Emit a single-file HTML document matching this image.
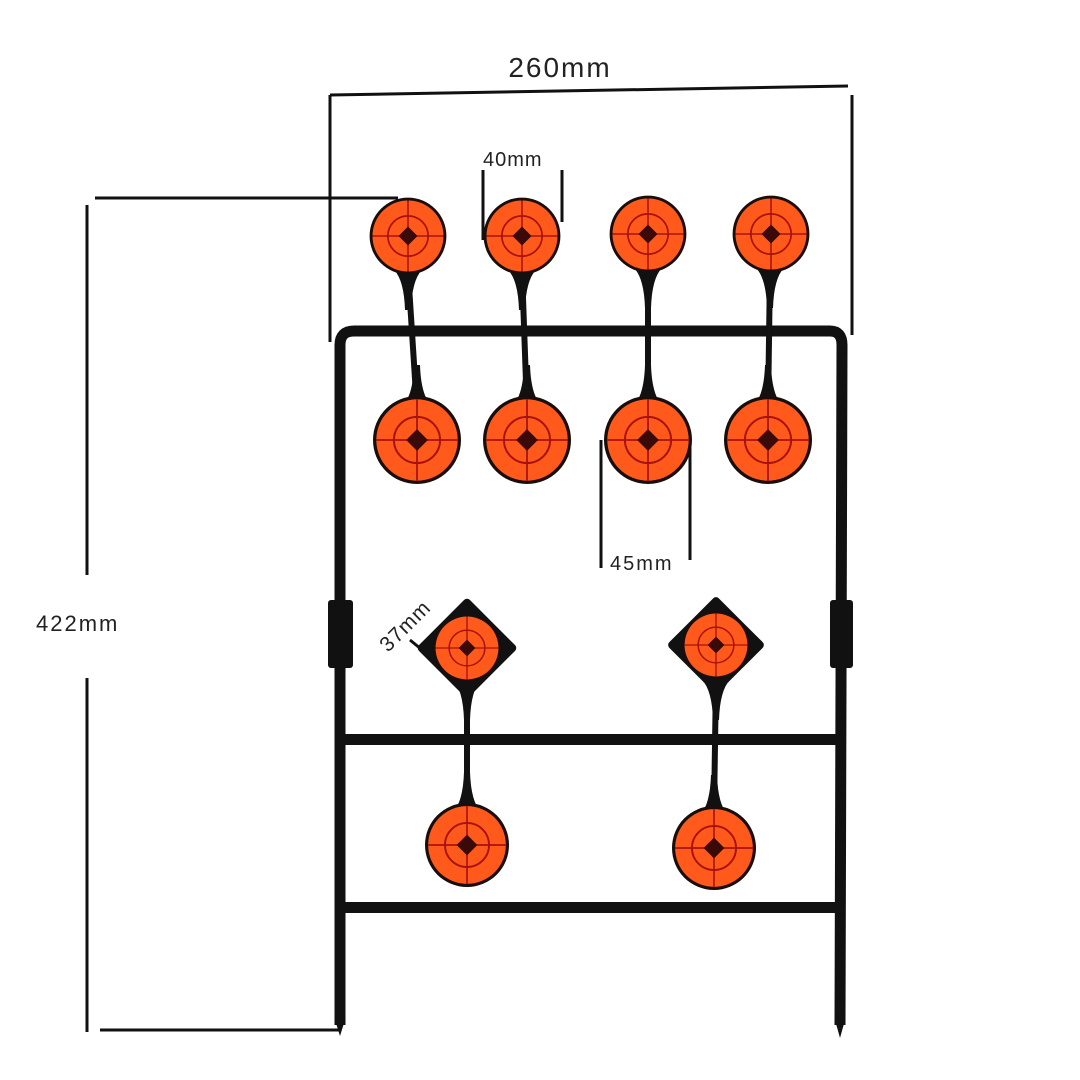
<!DOCTYPE html>
<html><head><meta charset="utf-8"><style>html,body{margin:0;padding:0;background:#fff}svg{display:block}</style></head><body>
<svg width="1080" height="1080" viewBox="0 0 1080 1080" xmlns="http://www.w3.org/2000/svg">
<defs>
<g id="t">
<circle r="40" fill="#1a0e0c"/>
<circle r="37" fill="#ff5a1c"/>
<circle r="21" fill="none" stroke="#a8120e" stroke-width="1.8"/>
<line x1="-37" y1="0" x2="37" y2="0" stroke="#a8120e" stroke-width="1.6"/>
<line x1="0" y1="-37" x2="0" y2="37" stroke="#a8120e" stroke-width="1.6"/>
<rect x="-7" y="-7" width="14" height="14" fill="#3a0a08" transform="rotate(45)"/>
</g>
<path id="drop" d="M-14,0 Q-4,10 -3,40 L3,40 Q4,10 14,0 Z" fill="#111"/>
</defs>
<g fill="none" stroke="#111" stroke-width="3">
<line x1="330" y1="95" x2="848" y2="86"/>
<line x1="330" y1="95" x2="330" y2="342"/>
<line x1="852" y1="95" x2="852" y2="335"/>
<line x1="95" y1="198" x2="398" y2="198"/>
<line x1="87" y1="205" x2="87" y2="575"/>
<line x1="87" y1="678" x2="87" y2="1032"/>
<line x1="100" y1="1030" x2="340" y2="1030"/>
<line x1="483" y1="170" x2="483" y2="240"/>
<line x1="562" y1="170" x2="562" y2="222"/>
<line x1="601" y1="440" x2="601" y2="568"/>
<line x1="690" y1="440" x2="690" y2="560"/>
<line x1="410" y1="640" x2="432" y2="658"/>
</g>
<g font-family="Liberation Sans, sans-serif" fill="#222">
<text x="560" y="77" font-size="28" text-anchor="middle" letter-spacing="2">260mm</text>
<text x="483" y="166" font-size="20" letter-spacing="1">40mm</text>
<text x="610" y="570" font-size="20" letter-spacing="2">45mm</text>
<text x="36" y="631" font-size="22" letter-spacing="2">422mm</text>
<text x="388" y="653" font-size="21" letter-spacing="1" transform="rotate(-45 388 653)">37mm</text>
</g>
<path d="M340,1025 L340,345 Q340,331 354,331 L830,331 Q842,331 842,345 L840,1025" fill="none" stroke="#111" stroke-width="11"/>
<g fill="#111">
<path d="M335,1020 L345,1020 L340,1036 Z"/>
<path d="M835,1020 L845,1020 L840,1038 Z"/>
<rect x="328" y="600" width="25" height="68" rx="3"/>
<rect x="830" y="600" width="23" height="68" rx="3"/>
<rect x="340" y="734" width="500" height="11"/>
<rect x="340" y="902" width="500" height="11"/>
<path d="M405,270 L411,270 L420,410 L414,410 Z"/><path d="M519,270 L525,270 L530,410 L524,410 Z"/>
<rect x="645" y="270" width="6" height="140"/><path d="M767,270 L773,270 L771,410 L765,410 Z"/>
<rect x="464" y="680" width="6" height="130"/><path d="M713,680 L719,680 L717,810 L711,810 Z"/>
</g>
<use href="#drop" x="408" y="270"/><use href="#drop" x="522" y="270"/><use href="#drop" x="648" y="268"/><use href="#drop" x="770" y="268"/>
<use href="#drop" x="417" y="405" transform="rotate(180 417 405)"/>
<use href="#drop" x="527" y="405" transform="rotate(180 527 405)"/>
<use href="#drop" x="648" y="405" transform="rotate(180 648 405)"/>
<use href="#drop" x="768" y="405" transform="rotate(180 768 405)"/>
<use href="#drop" x="467" y="680"/><use href="#drop" x="716" y="680"/>
<use href="#drop" x="467" y="812" transform="rotate(180 467 812)"/>
<use href="#drop" x="714" y="815" transform="rotate(180 714 815)"/>
<use href="#t" transform="translate(408,236) scale(0.96)"/>
<use href="#t" transform="translate(522,236) scale(0.96)"/>
<use href="#t" transform="translate(648,234) scale(0.96)"/>
<use href="#t" transform="translate(771,234) scale(0.96)"/>
<use href="#t" transform="translate(417,440) scale(1.1)"/>
<use href="#t" transform="translate(527,440) scale(1.1)"/>
<use href="#t" transform="translate(648,440) scale(1.1)"/>
<use href="#t" transform="translate(768,440) scale(1.1)"/>
<rect x="-36" y="-36" width="72" height="72" rx="4" fill="#111" transform="translate(467,648) rotate(45)"/>
<rect x="-35" y="-35" width="70" height="70" rx="4" fill="#111" transform="translate(716,645) rotate(45)"/>
<use href="#t" transform="translate(467,648) scale(0.85)"/>
<use href="#t" transform="translate(716,645) scale(0.85)"/>
<use href="#t" transform="translate(467,845) scale(1.05)"/>
<use href="#t" transform="translate(714,848) scale(1.05)"/>
</svg>
</body></html>
